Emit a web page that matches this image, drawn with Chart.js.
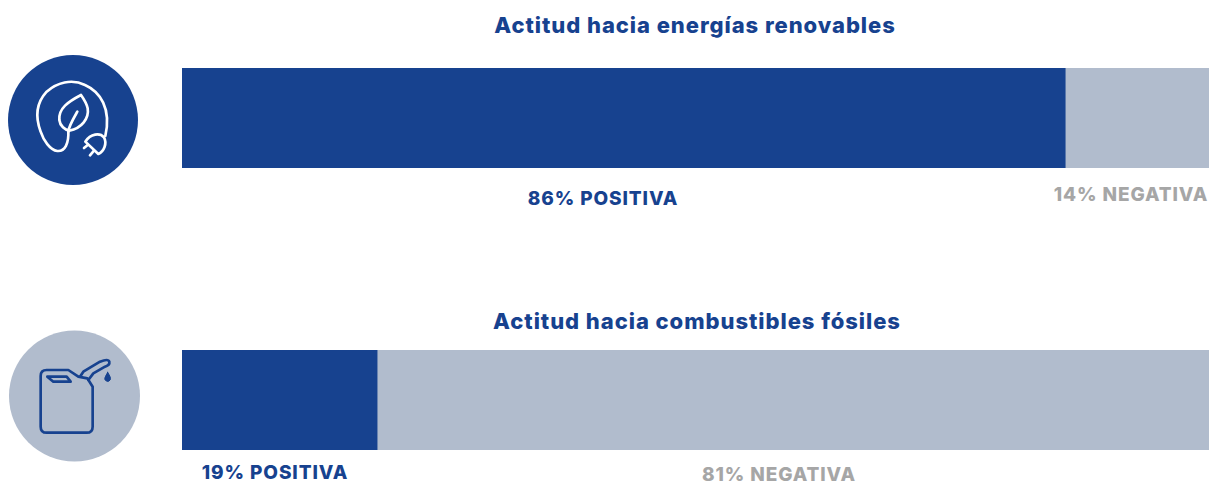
<!DOCTYPE html>
<html lang="es">
<head>
<meta charset="utf-8">
<script src="https://cdn.jsdelivr.net/npm/chart.js@4"></script>
<style>
    html, body { margin: 0; background: #fff; }
    #page { position: relative; width: 1214px; height: 486px; overflow: hidden; font-family: Inter, sans-serif; font-weight: 800; }
    canvas { position: absolute; left: 182px; }
    .txt { position: absolute; white-space: nowrap; transform: translateX(-50%); }
    .title { font-size: 22px; letter-spacing: 0.95px; color: #17428f; line-height: 26px; }
    .lbl { font-size: 19px; letter-spacing: 0.9px; line-height: 22px; }
    svg { position: absolute; left: 0; top: 0; }
</style>
</head>
<body>
<div id="page">
    <svg width="1214" height="486">
        <circle cx="73" cy="120" r="65" fill="#17428f"/>
        <g transform="translate(0,40) scale(0.3333)" fill="none" stroke="#fff" stroke-width="8" stroke-linejoin="round" stroke-linecap="round">
            <path d="M243 165 C205 185 175 205 178 240 C180 258 195 270 208 272 C245 265 268 235 263 205 C260 190 250 175 243 165 Z"/>
            <path d="M205 275 C205 262 215 245 232 215"/>
            <path d="M205 272 C207 310 195 335 172 333 C150 330 130 300 122 275 C105 230 108 190 140 155 C170 128 215 115 255 135 C300 155 335 205 316 288"/>
            <path d="M256 305 L295 342 C312 335 322 310 312 292 C300 278 272 280 256 305 Z"/>
            <path d="M264 314 L252 324 M282 332 L270 346"/>
        </g>
        <circle cx="74.5" cy="396" r="65.5" fill="#b1bccd"/>
        <g transform="translate(0,320) scale(0.3333)" fill="none" stroke="#17428f" stroke-width="8" stroke-linejoin="round" stroke-linecap="round">
            <path d="M140 150 L205 150 L235 170 L262 175 L278 200 L278 320 Q278 338 260 338 L140 338 Q122 338 122 320 L122 168 Q122 150 140 150 Z"/>
            <path d="M142 170 L160 185 L212 185 L200 170 Z"/>
            <path d="M240 170 L250 155 L300 125 Q325 115 328 125 Q330 135 315 140 L280 160 L265 180"/>
            <path d="M323 157 C316 170 313 175 315 179 Q323 190 331 179 C333 175 330 168 323 157 Z" fill="#17428f" stroke-width="3"/>
        </g>
    </svg>
    <canvas id="chart0" width="1027" height="100" style="top:68px"></canvas>
    <canvas id="chart1" width="1027" height="100" style="top:350px"></canvas>
</div>
<script>
const titles = ['Actitud hacia energías renovables', 'Actitud hacia combustibles fósiles'];
const positiveValues = [86, 19];
const negativeValues = [14, 81];
const seriesNames = ['POSITIVA', 'NEGATIVA'];

const blue = '#17428f';
const gray = '#b1bccd';
const grayText = '#a6a6a6';

function addText(text, cls, x, y, color) {
    const el = document.createElement('div');
    el.className = 'txt ' + cls;
    el.textContent = text;
    el.style.left = x + 'px';
    el.style.top = y + 'px';
    if (color) el.style.color = color;
    document.getElementById('page').appendChild(el);
}

function drawBar(i) {
    new Chart(document.getElementById('chart' + i), {
        type: 'bar',
        data: {
            labels: [titles[i]],
            datasets: [
                { label: seriesNames[0], data: [positiveValues[i]], backgroundColor: blue },
                { label: seriesNames[1], data: [negativeValues[i]], backgroundColor: gray }
            ]
        },
        options: {
            indexAxis: 'y',
            responsive: false,
            animation: false,
            barPercentage: 1,
            categoryPercentage: 1,
            plugins: { legend: { display: false }, title: { display: false }, tooltip: { enabled: false } },
            scales: {
                x: { stacked: true, min: 0, max: 100, display: false },
                y: { stacked: true, display: false }
            }
        }
    });
}

drawBar(0);
drawBar(1);

addText(titles[0], 'title', 695, 12);
addText(titles[1], 'title', 697, 308);
addText(positiveValues[0] + '% ' + seriesNames[0], 'lbl', 603, 188, blue);
addText(negativeValues[0] + '% ' + seriesNames[1], 'lbl', 1131, 184, grayText);
addText(positiveValues[1] + '% ' + seriesNames[0], 'lbl', 275, 462, blue);
addText(negativeValues[1] + '% ' + seriesNames[1], 'lbl', 779, 464, grayText);
</script>
</body>
</html>
